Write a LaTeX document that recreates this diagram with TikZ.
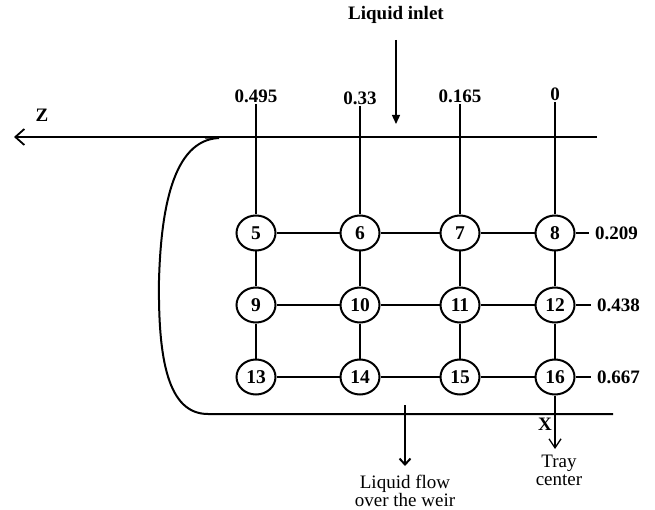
\documentclass[tikz,border=0pt]{standalone}
\usepackage{fontspec}
\setmainfont{Liberation Serif}
\usetikzlibrary{shapes.geometric,arrows.meta}
\begin{document}
\begin{tikzpicture}[x=1pt,y=-1pt,
  gridnode/.style={ellipse,draw,line width=2pt,minimum width=39pt,minimum height=35pt,inner sep=0pt,font=\fontsize{19.5}{19.5}\selectfont\bfseries},
  numlabel/.style={inner sep=1pt,font=\fontsize{19}{19}\selectfont\bfseries},
  plainlabel/.style={inner sep=0pt,align=center,font=\fontsize{19}{18}\selectfont},
  wall/.style={line width=2pt},
  link/.style={line width=1.6pt}]
\useasboundingbox (0,0) rectangle (655,510);

% column and row positions of the grid points
\def\ca{256}\def\cb{360}\def\cc{460}\def\cd{555}
\def\ra{233}\def\rb{305}\def\rc{377}

% grid points
\node[gridnode] (n5)  at (\ca,\ra) {5};
\node[gridnode] (n6)  at (\cb,\ra) {6};
\node[gridnode] (n7)  at (\cc,\ra) {7};
\node[gridnode] (n8)  at (\cd,\ra) {8};
\node[gridnode] (n9)  at (\ca,\rb) {9};
\node[gridnode] (n10) at (\cb,\rb) {10};
\node[gridnode] (n11) at (\cc,\rb) {11};
\node[gridnode] (n12) at (\cd,\rb) {12};
\node[gridnode] (n13) at (\ca,\rc) {13};
\node[gridnode] (n14) at (\cb,\rc) {14};
\node[gridnode] (n15) at (\cc,\rc) {15};
\node[gridnode] (n16) at (\cd,\rc) {16};

% grid links
\foreach \a/\b in {n5/n6,n6/n7,n7/n8,n9/n10,n10/n11,n11/n12,n13/n14,n14/n15,n15/n16,
                   n5/n9,n9/n13,n6/n10,n10/n14,n7/n11,n11/n15,n8/n12,n12/n16}
  \draw[link] (\a) -- (\b);

% z coordinates along the top
\node[numlabel,anchor=south] (z1) at (\ca,104) {0.495};
\node[numlabel,anchor=south] (z2) at (\cb,106) {0.33};
\node[numlabel,anchor=south] (z3) at (\cc,104) {0.165};
\node[numlabel,anchor=south] (z4) at (\cd,102) {0};
\draw[link] (z1) -- (n5);
\draw[link] (z2) -- (n6);
\draw[link] (z3) -- (n7);
\draw[link] (z4) -- (n8);

% x coordinates on the right
\coordinate (s8)  at (589,\ra);
\coordinate (s12) at (591,\rb);
\coordinate (s16) at (591,\rc);
\node[numlabel,anchor=west,xshift=5pt] (x1) at (s8)  {0.209};
\node[numlabel,anchor=west,xshift=5pt] (x2) at (s12) {0.438};
\node[numlabel,anchor=west,xshift=5pt] (x3) at (s16) {0.667};
\draw[link] (n8)  -- (s8);
\draw[link] (n12) -- (s12);
\draw[link] (n16) -- (s16);

% tray outline: top edge with Z axis, weir curve, bottom edge
\coordinate (topend) at (597,137);
\coordinate (ztip) at (14,137);
\draw[wall,-{Straight Barb[length=9pt,width=16pt,line width=1.8pt]}] (topend) -- (ztip);
\node[numlabel] (zlab) at (42,115) {Z};
\coordinate (c0) at (219,138);
\coordinate (c1) at (159,280);
\coordinate (c2) at (208,414);
\coordinate (botend) at (613,414);
\draw[wall] (205,137.5) -- (c0);
\draw[wall] (c0) .. controls (172,140) and (161,212) .. (c1)
            .. controls (158,360) and (168,414) .. (c2) -- (botend);

% liquid inlet
\node[numlabel] (inlet) at (396,15) {Liquid inlet};
\coordinate (in0) at (396,40);
\coordinate (in1) at (396,124);
\draw[line width=1.3pt,-{Triangle[length=9pt,width=8pt]}] (in0) -- (in1);

% liquid leaving over the weir
\coordinate (w0) at (405,405);
\coordinate (w1) at (405,466);
\draw[line width=2.2pt,-{Straight Barb[length=6pt,width=11pt,line width=2pt]}] (w0) -- (w1);
\node[plainlabel,anchor=north] (weir) at (405,475) {Liquid flow\\over the weir};

% x axis toward the tray centre
\coordinate (t1) at (\cd,449);
\draw[link,-{Straight Barb[length=9pt,width=12pt,line width=1.3pt]}] (n16) -- (t1);
\node[numlabel] (xlab) at (545,424) {X};
\node[plainlabel,anchor=north] (tray) at (\cd+4,455) {Tray\\center};
\end{tikzpicture}
\end{document}
